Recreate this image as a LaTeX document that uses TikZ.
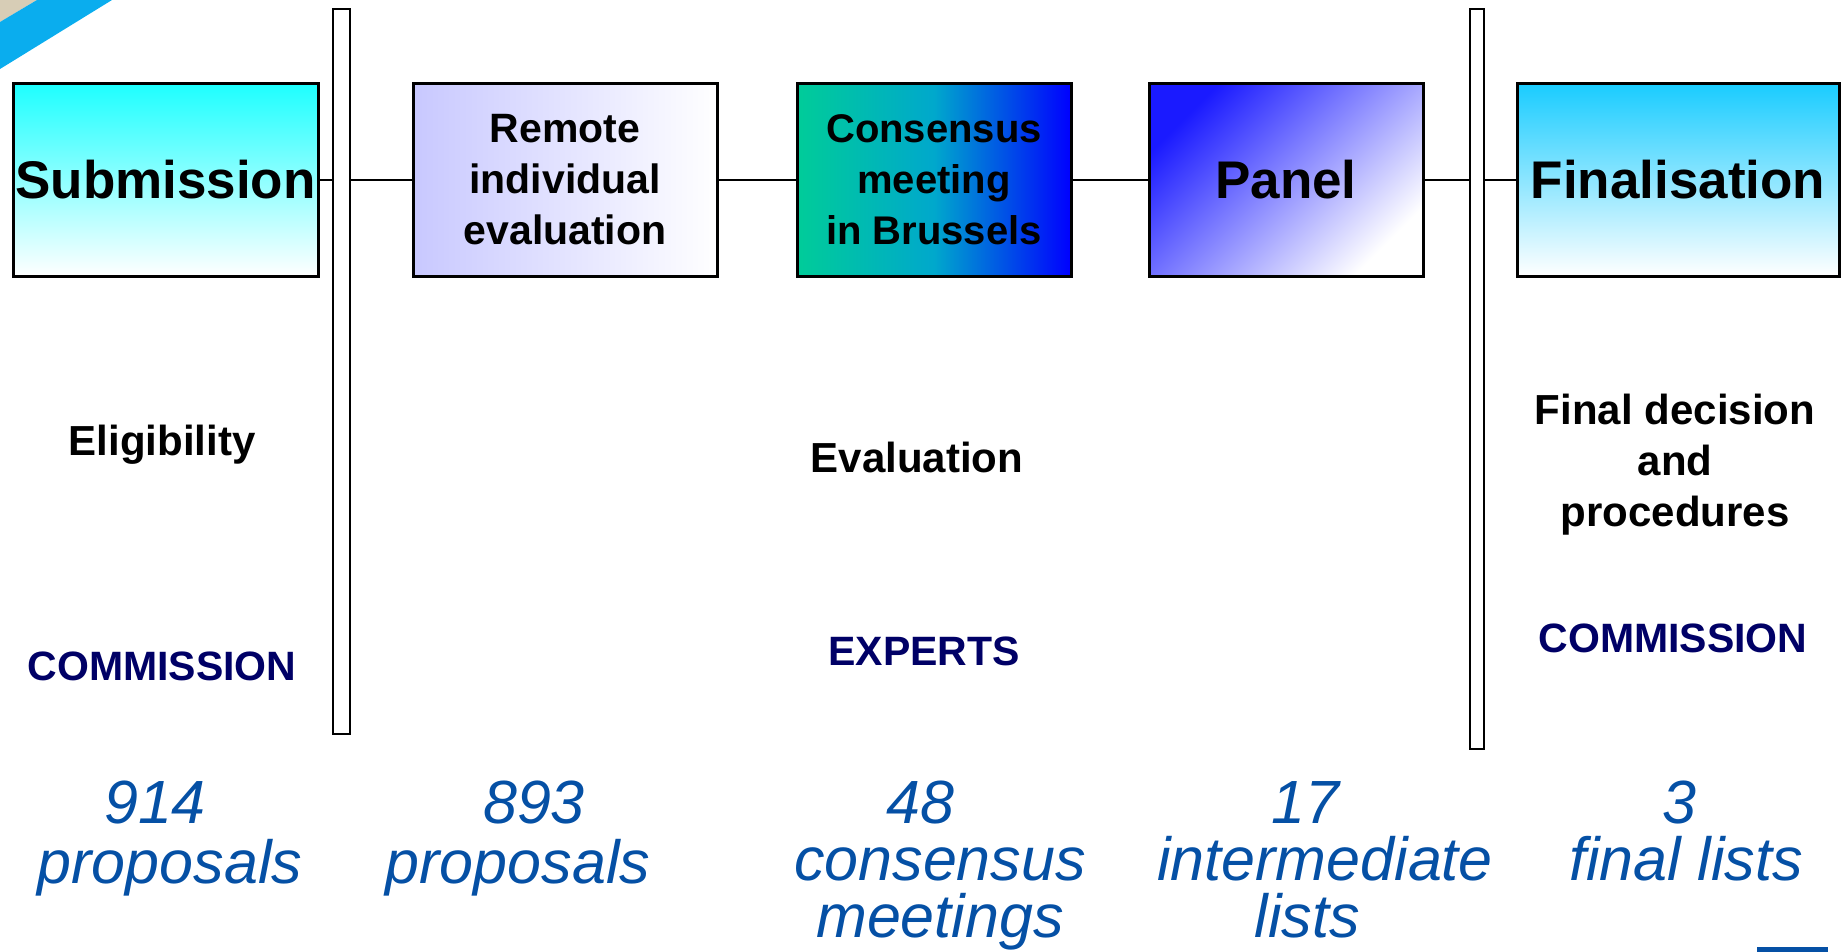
\documentclass[tikz,border=0pt]{standalone}
\usepackage{fontspec}
\setmainfont{Liberation Sans}
\definecolor{numblue}{RGB}{5,80,165}
\definecolor{navy}{RGB}{0,0,102}
\definecolor{subtop}{RGB}{30,255,255}
\definecolor{fintop}{RGB}{26,204,255}
\definecolor{remleft}{RGB}{200,200,255}
\definecolor{conleft}{RGB}{0,204,153}
\definecolor{conmid}{RGB}{0,168,204}
\definecolor{conright}{RGB}{0,0,255}
\definecolor{pantop}{RGB}{26,26,255}
\definecolor{stripe}{RGB}{10,173,238}
\definecolor{beige}{RGB}{215,205,182}
\begin{document}
\begin{tikzpicture}[x=1pt,y=-1pt,
  stagebox/.style={draw=black,line width=3pt,minimum height=192pt,inner sep=0pt,align=center,font=\bfseries},
  barbox/.style={draw=black,fill=white,line width=2.5pt,inner sep=0pt},
  link/.style={line width=2pt,black},
  midtext/.style={font=\bfseries\fontsize{42}{51}\selectfont,inner sep=0pt,align=center},
  whotext/.style={font=\bfseries\fontsize{41}{51}\selectfont,text=navy,inner sep=0pt,anchor=base},
  numtext/.style={font=\itshape\fontsize{61}{57}\selectfont,text=numblue,inner sep=0pt,anchor=north,align=center}]
\useasboundingbox (0,0) rectangle (1847,952);
% decoration corners
\fill[beige] (0,0) -- (37,0) -- (0,22) -- cycle;
\fill[stripe] (37,0) -- (112,0) -- (0,69) -- (0,22) -- cycle;
\fill[numblue] (1757,947) rectangle (1828,952);
% bars
\node[barbox,minimum width=17pt,minimum height=725pt] (bar1) at (341.5,371.5) {};
\node[barbox,minimum width=14pt,minimum height=740pt] (bar2) at (1477,379) {};
% stage boxes
\node[stagebox,minimum width=305pt,top color=subtop,bottom color=white,font=\bfseries\fontsize{53}{60}\selectfont] (sub) at (165.5,180) {Submission};
\node[stagebox,minimum width=304pt,left color=remleft,right color=white,font=\bfseries\fontsize{41}{51}\selectfont] (rem) at (565,180) {Remote\\individual\\evaluation};
\node[stagebox,minimum width=274pt,left color=conleft,right color=conright,middle color=conmid,font=\bfseries\fontsize{40}{51}\selectfont] (con) at (934,180) {Consensus\\meeting\\in Brussels};
\node[stagebox,minimum width=274pt,top color=pantop,bottom color=white,shading angle=45,font=\bfseries\fontsize{53}{60}\selectfont] (pan) at (1286,180) {Panel};
\node[stagebox,minimum width=322pt,top color=fintop,bottom color=white,font=\bfseries\fontsize{53}{60}\selectfont] (fin) at (1678,180) {Finalisation};
% connectors
\draw[link] (sub.east) -- (sub.east -| bar1.west);
\draw[link] (bar1.east |- rem.west) -- (rem.west);
\draw[link] (rem.east) -- (con.west);
\draw[link] (con.east) -- (pan.west);
\draw[link] (pan.east) -- (pan.east -| bar2.west);
\draw[link] (bar2.east |- fin.west) -- (fin.west);
% middle texts
\node[midtext,anchor=base] (elig) at (162,455) {Eligibility};
\node[midtext,anchor=base] (eval) at (917,472) {Evaluation};
\node[midtext] (final) at (1675,465) {Final decision\\and\\procedures};
\node[whotext] (comL) at (162,680) {COMMISSION};
\node[whotext] (exp) at (924,665) {EXPERTS};
\node[whotext] (comR) at (1673,652) {COMMISSION};
% numbers
\node[numtext] (n1) at (170,781) {914\hspace*{30pt}\\[3pt]proposals};
\node[numtext] (n2) at (518,781) {\hspace*{32pt}893\\[3pt]proposals};
\node[numtext] (n3) at (940,781) {48\hspace*{40pt}\\consensus\\meetings};
\node[numtext] (n4) at (1325,781) {17\hspace*{40pt}\\intermediate\\\hspace*{0pt}lists\hspace*{36pt}};
\node[numtext] (n5) at (1686,781) {3\hspace*{14pt}\\final lists};
\end{tikzpicture}
\end{document}
